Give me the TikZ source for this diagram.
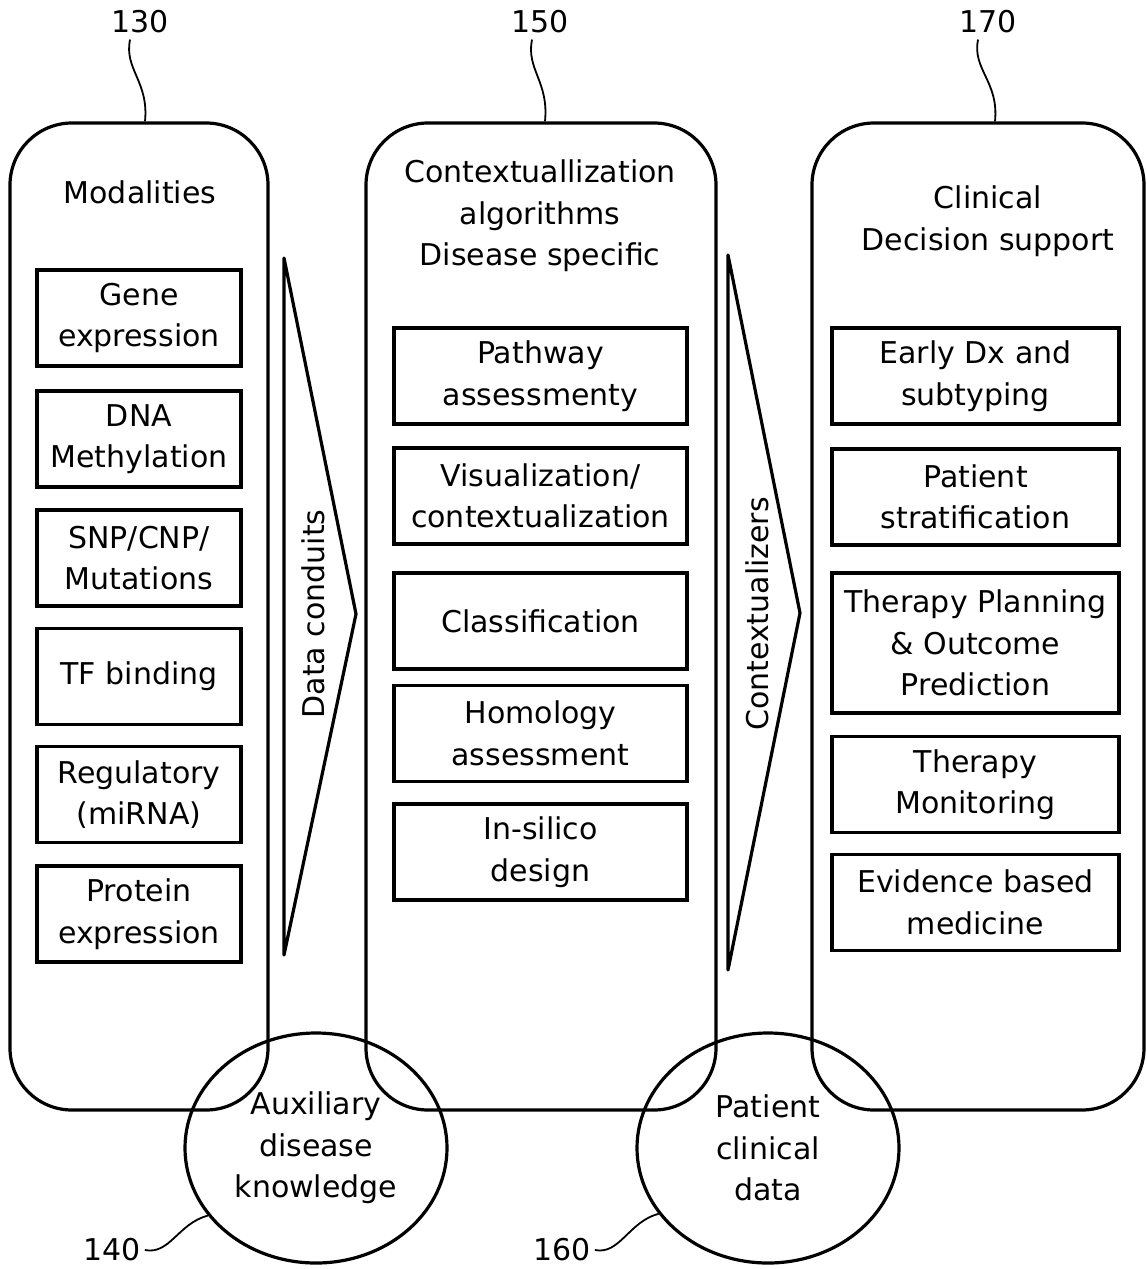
\documentclass[tikz,border=0pt]{standalone}
\usepackage{fontspec}
\setmainfont{DejaVu Sans}
\usetikzlibrary{shapes.geometric}
\begin{document}
\begin{tikzpicture}[x=1pt,y=-1pt,
  txt/.style={font=\fontsize{30}{41.5}\selectfont, align=center, inner sep=0pt},
  bigbox/.style={draw, line width=3.2pt, rounded corners=62pt, inner sep=0pt, minimum height=987pt},
  smallbox/.style={draw, line width=3.2pt, inner sep=0pt, align=center, font=\fontsize{30}{41.5}\selectfont, minimum height=96pt},
  lbox/.style={smallbox, minimum width=204pt},
  mbox/.style={smallbox, minimum width=293pt},
  rbox/.style={smallbox, minimum width=287pt},
  oval/.style={draw, ellipse, line width=3.2pt, inner sep=0pt, minimum width=262pt, minimum height=230pt, align=center, font=\fontsize{30}{41.5}\selectfont},
  chev/.style={draw, line width=3.2pt, line join=round},
  leader/.style={draw, line width=1.8pt},
  num/.style={font=\fontsize{30}{36}\selectfont, inner sep=0pt}
]
\useasboundingbox (0,0) rectangle (1147,1269);

% big rounded columns
\node[bigbox, minimum width=258pt] (b130) at (139,616.5) {};
\node[bigbox, minimum width=350pt] (b150) at (541,616.5) {};
\node[bigbox, minimum width=332pt] (b170) at (978,616.5) {};

% titles
\node[txt] (t130) at (140,192) {Modalities};
\node[txt] (t150) at (540,216) {Contextuallization\\algorithms\\Disease specific};
\node[txt] (t170) at (988,221) {Clinical\\Decision support};

% left boxes
\node[lbox] (g1) at (139,318) {Gene\\expression};
\node[lbox] (g2) at (139,439) {DNA\\Methylation};
\node[lbox] (g3) at (139,558) {SNP/CNP/\\Mutations};
\node[lbox] (g4) at (139,676.5) {TF binding};
\node[lbox] (g5) at (139,794.5) {Regulatory\\(miRNA)};
\node[lbox] (g6) at (139,914) {Protein\\expression};

% middle boxes
\node[mbox] (m1) at (540.5,376) {Pathway\\assessmenty};
\node[mbox] (m2) at (540.5,496) {Visualization/\\contextualization};
\node[mbox] (m3) at (540.5,621) {Classification};
\node[mbox] (m4) at (540.5,733.5) {Homology\\assessment};
\node[mbox] (m5) at (540.5,852) {In-silico\\design};

% right boxes
\node[rbox] (r1) at (975.5,376) {Early Dx and\\subtyping};
\node[rbox] (r2) at (975.5,497) {Patient\\stratification};
\node[rbox, minimum height=140pt] (r3) at (975.5,643) {Therapy Planning\\\& Outcome\\Prediction};
\node[rbox] (r4) at (975.5,784.5) {Therapy\\Monitoring};
\node[rbox] (r5) at (975.5,902.5) {Evidence based\\medicine};

% chevron arrows
\draw[chev] (284,258) -- (356,614) -- (284,955) -- cycle;
\draw[chev] (728,255) -- (800,613) -- (728,970) -- cycle;
\node[txt, rotate=90] (dc) at (313,614) {Data conduits};
\node[txt, rotate=90] (cx) at (757,614) {Contextualizers};

% ellipses
\node[oval] (e140) at (316,1148) {Auxiliary\\disease\\knowledge};
\node[oval] (e160) at (768,1148) {Patient\\clinical\\data};

% reference numerals
\node[num] (l130) at (140,22) {130};
\node[num] (l150) at (540,22) {150};
\node[num] (l170) at (988,22) {170};
\node[num] (l140) at (112,1250) {140};
\node[num] (l160) at (562,1250) {160};

% leaders
\draw[leader] ([xshift=-10pt,yshift=-6pt]l130.south) .. controls +(-6,30) and +(4,-40) .. ([xshift=6pt]b130.north);
\draw[leader] ([xshift=-8pt,yshift=-6pt]l150.south) .. controls +(-6,30) and +(4,-40) .. ([xshift=4pt]b150.north);
\draw[leader] ([xshift=-10pt,yshift=-6pt]l170.south) .. controls +(-6,30) and +(4,-40) .. ([xshift=17pt]b170.north);
\draw[leader] ([xshift=4pt]l140.east) .. controls +(25,5) and +(-30,8) .. (e140.212);
\draw[leader] ([xshift=4pt]l160.east) .. controls +(25,5) and +(-30,8) .. (e160.211);
\end{tikzpicture}
\end{document}
